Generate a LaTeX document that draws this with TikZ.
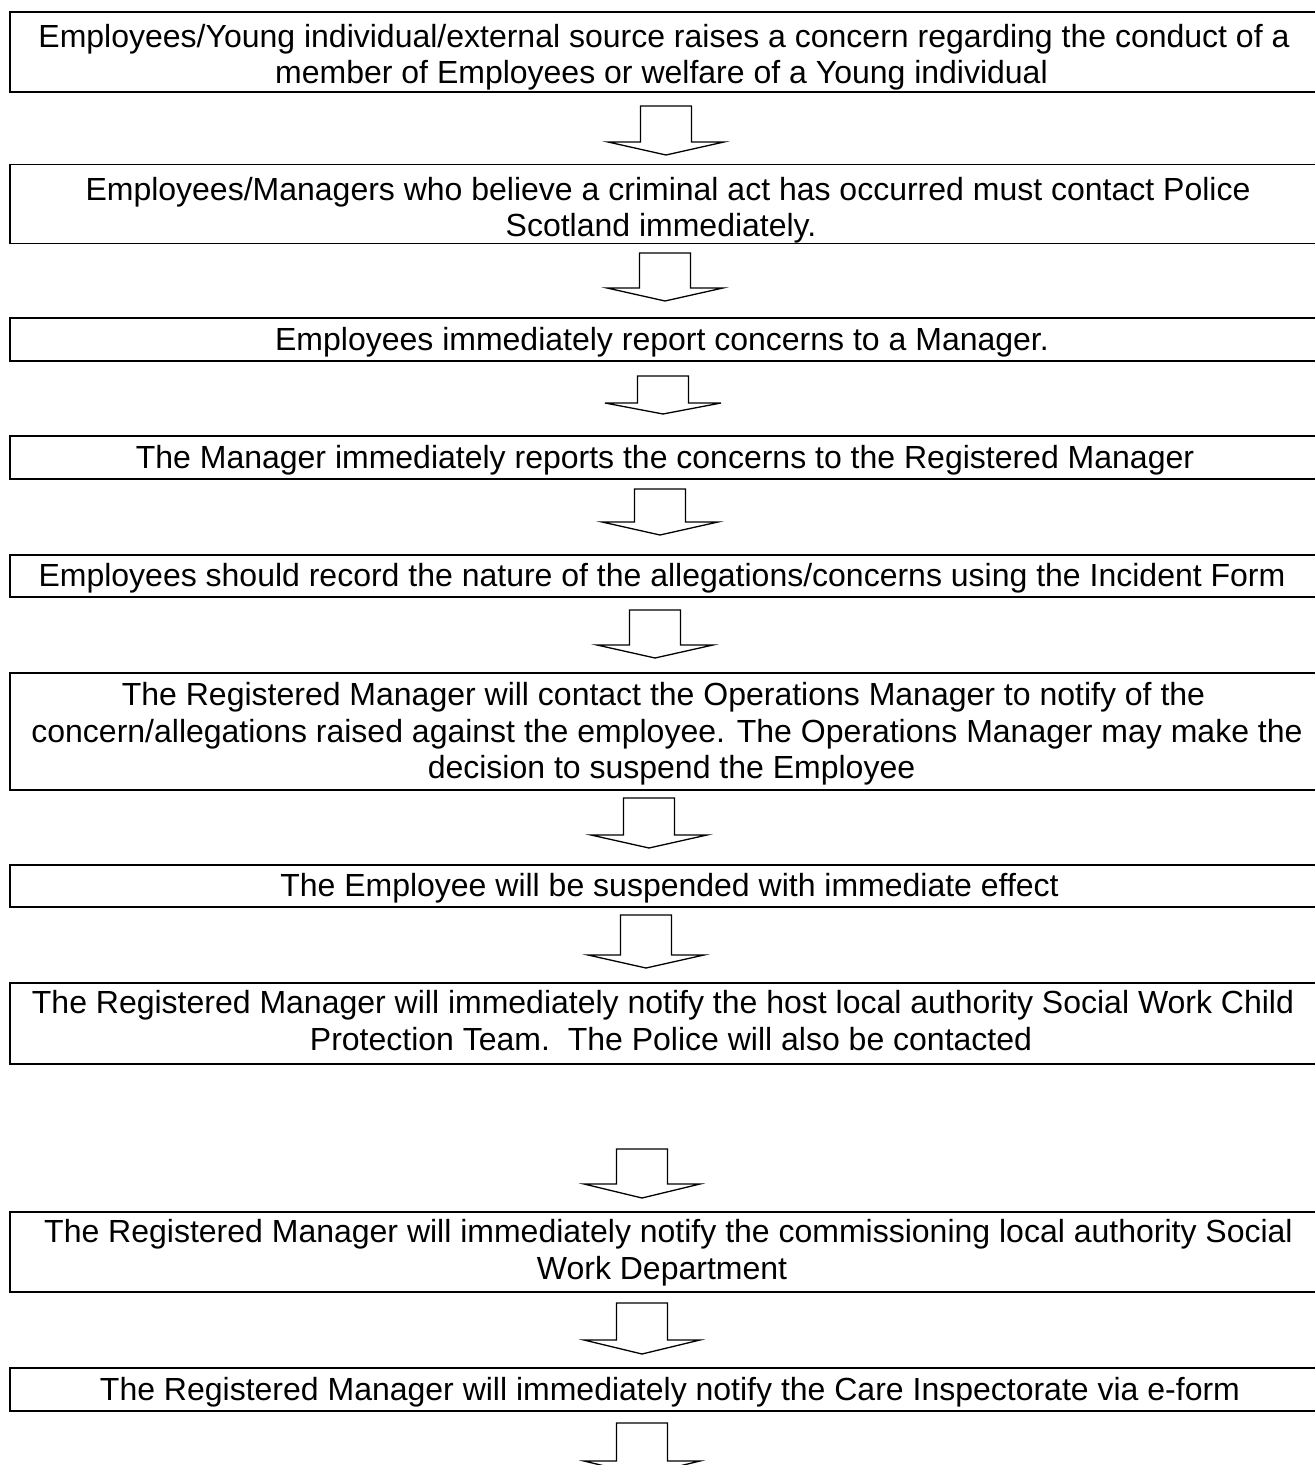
\documentclass[tikz,border=0pt]{standalone}
\usepackage{fontspec}
\setmainfont{Liberation Sans}
\newcommand{\blockarrow}[4]{% cx, top, wing y, tip y
  \draw[barrow] ({#1-25.5},#2) -- ({#1+25.5},#2) -- ({#1+25.5},#3) -- ({#1+58},#3) -- (#1,#4) -- ({#1-58},#3) -- ({#1-25.5},#3) -- cycle;}
% line shift (px), top strut, bottom strut
\newcommand{\lsh}[1]{\hspace*{#1pt}}
\newcommand{\tpst}[1]{\rule{0pt}{#1pt}}
\newcommand{\btst}[1]{\rule[-#1pt]{0pt}{0pt}}
\begin{document}
\begin{tikzpicture}[x=0.5pt,y=-0.5pt,
  box/.style={draw, line width=0.8pt, rectangle, minimum width=654pt, inner sep=0pt, align=center, font=\fontsize{16}{18.25}\selectfont},
  barrow/.style={draw, line width=0.65pt, fill=white, line join=miter}]
\useasboundingbox (0,0) rectangle (1314,1465);
\node[box, minimum height=40pt] (b1) at (664,52) {\tpst{17}Employees/Young individual/external source raises a concern regarding the conduct of a\\\lsh{-2.5}member of Employees or welfare of a Young individual\btst{3.2}};
\node[box, minimum height=37pt] (b2) at (664,204) {\lsh{4}\tpst{18}Employees/Managers who believe a criminal act has occurred must contact Police\\\lsh{-3}Scotland immediately.\btst{3.2}};
\node[box, minimum height=21.5pt] (b3) at (664,339.5) {\lsh{-2}\tpst{14}Employees immediately report concerns to a Manager.\btst{3.2}};
\node[box, minimum height=21.5pt] (b4) at (664,457.5) {\lsh{1}\tpst{14}The Manager immediately reports the concerns to the Registered Manager\btst{3.2}};
\node[box, minimum height=21pt] (b5) at (664,576) {\lsh{-2}\tpst{14}Employees should record the nature of the allegations/concerns using the Incident Form\btst{3.2}};
\node[box, minimum height=58.5pt] (b6) at (664,731.5) {\lsh{-0.5}\tpst{14}The Registered Manager will contact the Operations Manager to notify of the\\\lsh{3}concern/allegations raised against the employee. The Operations Manager may make the\\\lsh{7.5}decision to suspend the Employee\btst{3.2}};
\node[box, minimum height=21pt] (b7) at (664,886) {\lsh{5.5}\tpst{14}The Employee will be suspended with immediate effect\btst{3.2}};
\node[box, minimum height=40.5pt] (b8) at (664,1023.5) {\lsh{-1}\tpst{15}The Registered Manager will immediately notify the host local authority Social Work Child\\\lsh{7}Protection Team.\ \ The Police will also be contacted\btst{6.7}};
\node[box, minimum height=40pt] (b9) at (664,1252) {\lsh{4.5}\tpst{12.5}The Registered Manager will immediately notify the commissioning local authority Social\\\lsh{-2}Work Department\btst{3.2}};
\node[box, minimum height=21.5pt] (b10) at (664,1389.5) {\lsh{6}\tpst{14}The Registered Manager will immediately notify the Care Inspectorate via e-form\btst{3.2}};
\blockarrow{666}{106}{142}{155}
\blockarrow{665}{253}{288}{301}
\blockarrow{663}{376}{403}{414}
\blockarrow{660}{489}{522}{535}
\blockarrow{655}{610}{645}{658}
\blockarrow{649}{798}{835}{848}
\blockarrow{646}{915}{955}{968}
\blockarrow{642}{1149}{1184}{1198}
\blockarrow{642}{1303}{1340}{1354}
\blockarrow{642}{1423}{1461}{1475}
\end{tikzpicture}
\end{document}
